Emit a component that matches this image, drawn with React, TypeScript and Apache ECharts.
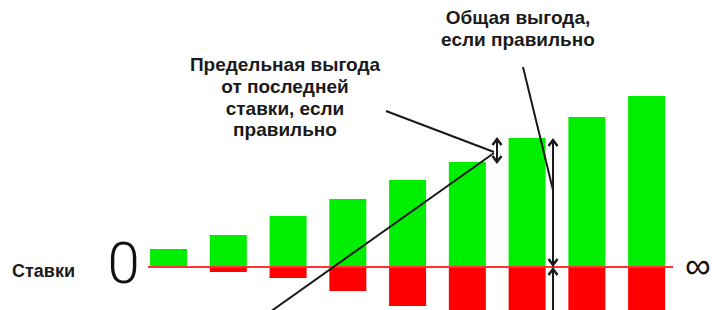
import React, { useEffect, useRef } from "react";
import * as echarts from "echarts";

const categories = ["1", "2", "3", "4", "5", "6", "7", "8", "9"];
const gainValues = [18, 32, 51, 68, 87, 105, 129, 150, 171];
const lossValues = [0, -5, -11, -24, -39, -58, -76, -95, -118];
const zeroLabel = "0";
const infinityLabel = "∞";
const axisTitle = "Ставки";
const marginalNote = "Предельная выгода\nот последней\nставки, если\nправильно";
const totalNote = "Общая выгода,\nесли правильно";

const GREEN = "#00ee00";
const RED = "#ff0000";
const INK = "#1a1a1a";
const TEXT_FONT = 'bold 19px "Liberation Sans", Arial, sans-serif';

export default function App() {
  const ref = useRef<HTMLDivElement>(null);

  useEffect(() => {
    if (!ref.current) return;
    const chart = echarts.init(ref.current, null, { renderer: "svg" });
    chart.setOption({
      animation: false,
      backgroundColor: "#ffffff",
      grid: { left: 138.7, top: 0, width: 537.8, height: 310 },
      xAxis: {
        type: "category",
        data: categories,
        axisLine: { show: false },
        axisTick: { show: false },
        axisLabel: { show: false },
        splitLine: { show: false },
      },
      yAxis: {
        type: "value",
        min: -43,
        max: 267,
        show: false,
        splitLine: { show: false },
      },
      series: [
        {
          type: "bar",
          data: gainValues,
          barWidth: 37,
          barGap: "-100%",
          itemStyle: { color: GREEN },
          clip: true,
        },
        {
          type: "bar",
          data: lossValues,
          barWidth: 37,
          barGap: "-100%",
          itemStyle: { color: RED },
          clip: true,
        },
      ],
    });

    const y0 = chart.convertToPixel({ yAxisIndex: 0 }, 0) as number;
    const line = (x1: number, y1: number, x2: number, y2: number) => ({
      type: "line",
      z: 100,
      shape: { x1, y1, x2, y2 },
      style: { stroke: INK, lineWidth: 2 },
    });
    const head = (x: number, y: number, dir: number) => ({
      type: "polyline",
      z: 100,
      shape: { points: [[x - 4.5, y + 6 * dir], [x, y], [x + 4.5, y + 6 * dir]] },
      style: { stroke: INK, lineWidth: 2.5, fill: "none" },
    });

    chart.setOption({
      graphic: [
        {
          type: "line",
          z: 90,
          shape: { x1: 148, y1: y0, x2: 673, y2: y0 },
          style: { stroke: "#ff3333", lineWidth: 2 },
        },
        line(386, 111, 494, 152),
        line(270, 312, 494, 153),
        line(497, 139, 497, 162),
        head(497, 139, 1),
        head(497, 162, -1),
        line(523, 67, 553, 190),
        line(553, 140, 553, 265),
        head(553, 140, 1),
        head(553, 265, -1),
        line(553, 269, 553, 312),
        head(553, 269, 1),
        {
          type: "text",
          z: 100,
          style: {
            text: zeroLabel,
            x: 123.5,
            y: 263,
            align: "center",
            verticalAlign: "middle",
            font: '300 58px Roboto, "Liberation Sans", sans-serif',
            fill: "#111",
          },
        },
        {
          type: "text",
          z: 100,
          style: {
            text: infinityLabel,
            x: 685,
            y: 265,
            align: "left",
            verticalAlign: "middle",
            font: '36px "Liberation Sans", Arial, sans-serif',
            fill: "#111",
          },
        },
        {
          type: "text",
          z: 100,
          style: {
            text: axisTitle,
            x: 12,
            y: 271,
            align: "left",
            verticalAlign: "middle",
            font: 'bold 18px "Liberation Sans", Arial, sans-serif',
            fill: INK,
          },
        },
        {
          type: "text",
          z: 100,
          style: {
            text: marginalNote,
            x: 285,
            y: 54,
            align: "center",
            verticalAlign: "top",
            lineHeight: 21.7,
            font: TEXT_FONT,
            fill: INK,
          },
        },
        {
          type: "text",
          z: 100,
          style: {
            text: totalNote,
            x: 518,
            y: 7,
            align: "center",
            verticalAlign: "top",
            lineHeight: 21.7,
            font: TEXT_FONT,
            fill: INK,
          },
        },
      ],
    });

    return () => chart.dispose();
  }, []);

  return (
    <div
      ref={ref}
      style={{ position: "absolute", left: 0, top: 0, width: 712, height: 310 }}
    />
  );
}
